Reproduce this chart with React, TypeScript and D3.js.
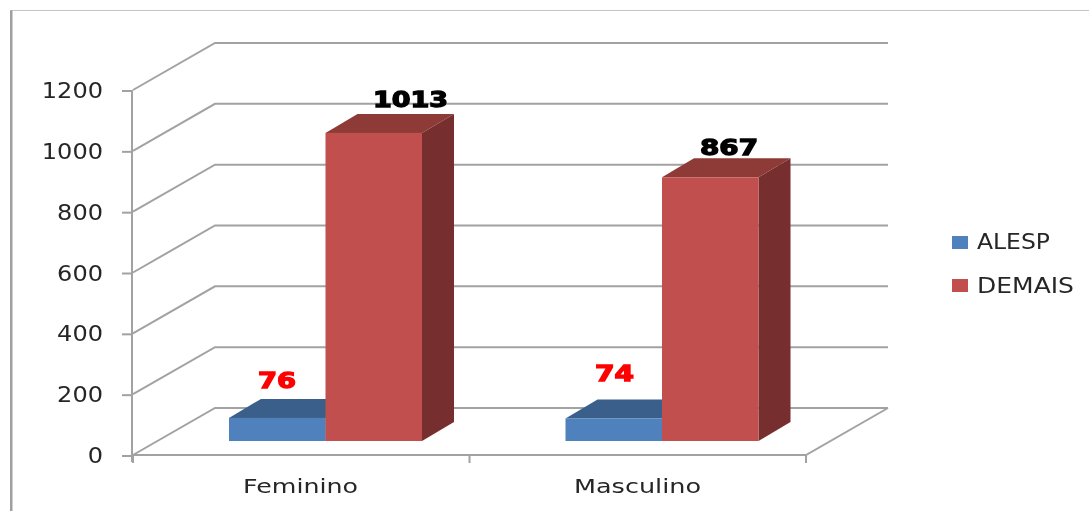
import React from "react";
import * as d3 from "d3";

const categories = ["Feminino", "Masculino"];
const seriesNames = ["ALESP", "DEMAIS"];
const alespValues = [76, 74];
const demaisValues = [1013, 867];
const yTicks = [0, 200, 400, 600, 800, 1000, 1200];
const seriesValues = [alespValues, demaisValues];

const frontColors = ["#4F81BD", "#C0504D"];
const topColors = ["#3A5F8B", "#8E3B39"];
const sideColors = ["#2F4E74", "#772F2D"];
const labelColors = ["#FF0000", "#000000"];

const W = 1089, H = 511;
const plotLeft = 133, plotRight = 806, plotBottom = 455, plotTop = 90;
const wallDx = 82, wallDy = -47;
const barDx = 32, barDy = -19;
const barBase = 441;
const GRID = "#A2A2A2";
const TEXT = "#262626";
const FONT = "'DejaVu Sans', sans-serif";

const y = d3.scaleLinear().domain([0, 1200]).range([plotBottom, plotTop]);
const x0 = d3.scaleBand<string>().domain(categories).range([plotLeft, plotRight]);
const x1 = d3.scaleBand<string>().domain(seriesNames).range([96, 289]);
const barY = (v: number) => barBase - (plotBottom - y(v));
const poly = d3.line();

function Stretched(p: { x: number; y: number; w: number; size: number; fill: string; bold?: boolean; stroke?: string; children: string }) {
  return (
    <text x={p.x} y={p.y} textLength={p.w} lengthAdjust="spacingAndGlyphs" fontSize={p.size} fontFamily={FONT}
      fontWeight={p.bold ? 700 : 400} fill={p.fill} stroke={p.stroke} strokeWidth={p.stroke ? 1.3 : 0}>
      {p.children}
    </text>
  );
}

const tickWidth = (v: number) => String(v).length * 15.3;
const catLabels = [{ x: 243, w: 115 }, { x: 574, w: 127 }];
const legendLabels = [{ y: 249, w: 73 }, { y: 293, w: 97 }];
const legendSwatchY = [236, 279];
const dataLabelPos = [
  [{ x: 258, y: 388, w: 38 }, { x: 595, y: 381, w: 39 }],
  [{ x: 373, y: 107, w: 75 }, { x: 700, y: 155, w: 58 }],
];

export default function App() {
  return (
    <svg width={W} height={H} viewBox={`0 0 ${W} ${H}`} style={{ position: "absolute", left: 0, top: 0, background: "#fff" }}>
      <defs>
        <filter id="soft" x="0" y="0" width="100%" height="100%"><feGaussianBlur stdDeviation="0.7" /></filter>
      </defs>
      <g filter="url(#soft)">
        <path d={`M11,511 V10`} stroke="#A0A0A0" strokeWidth={3} fill="none" />
        <path d={`M10,10 H${W}`} stroke="#B0B0B0" strokeWidth={1.5} fill="none" />

        {yTicks.map((t) => (
          <g key={t} fill="none" stroke={GRID} strokeWidth={2}>
            <path d={poly([[plotLeft, y(t)], [plotLeft + wallDx, y(t) + wallDy], [plotRight + wallDx, y(t) + wallDy]]) ?? ""} />
            <path d={`M${plotLeft - 11},${y(t) + 1} H${plotLeft}`} />
          </g>
        ))}
        <path d={`M${plotLeft - 1},${plotTop} V${plotBottom + 7}`} stroke={GRID} strokeWidth={2} fill="none" />
        <path d={`M${plotLeft},${plotBottom} H${plotRight} L${plotRight + wallDx},${plotBottom + wallDy}`} stroke={GRID} strokeWidth={2} fill="none" />
        {[plotLeft, ...categories.map((c) => (x0(c) ?? 0) + x0.bandwidth())].map((t) => (
          <path key={t} d={`M${t},${plotBottom} V${plotBottom + 8}`} stroke={GRID} strokeWidth={2} fill="none" />
        ))}

        {categories.map((c, ci) =>
          seriesNames.map((s, si) => {
            const v = seriesValues[si][ci];
            const l = (x0(c) ?? 0) + (x1(s) ?? 0);
            const r = l + x1.bandwidth();
            const t = barY(v);
            return (
              <g key={c + s}>
                <path fill={topColors[si]} d={(poly([[l, t], [l + barDx, t + barDy], [r + barDx, t + barDy], [r, t]]) ?? "") + "Z"} />
                <path fill={sideColors[si]} d={(poly([[r, t], [r + barDx, t + barDy], [r + barDx, barBase + barDy], [r, barBase]]) ?? "") + "Z"} />
                <rect x={l} y={t} width={r - l} height={barBase - t} fill={frontColors[si]} />
              </g>
            );
          })
        )}

        {yTicks.map((t) => (
          <Stretched key={t} x={103 - tickWidth(t)} y={y(t) + 8} w={tickWidth(t)} size={21} fill={TEXT}>{String(t)}</Stretched>
        ))}
        {categories.map((c, i) => (
          <Stretched key={c} x={catLabels[i].x} y={493} w={catLabels[i].w} size={20} fill={TEXT}>{c}</Stretched>
        ))}
        {seriesNames.map((s, i) => (
          <g key={s}>
            <rect x={952} y={legendSwatchY[i]} width={16} height={13} fill={frontColors[i]} />
            <Stretched x={977} y={legendLabels[i].y} w={legendLabels[i].w} size={20.5} fill={TEXT}>{s}</Stretched>
          </g>
        ))}
        {seriesValues.map((vals, si) =>
          vals.map((v, ci) => {
            const p = dataLabelPos[si][ci];
            return <Stretched key={`${si}-${ci}`} x={p.x} y={p.y} w={p.w} size={21} bold fill={labelColors[si]} stroke={labelColors[si]}>{String(v)}</Stretched>;
          })
        )}
      </g>
    </svg>
  );
}
